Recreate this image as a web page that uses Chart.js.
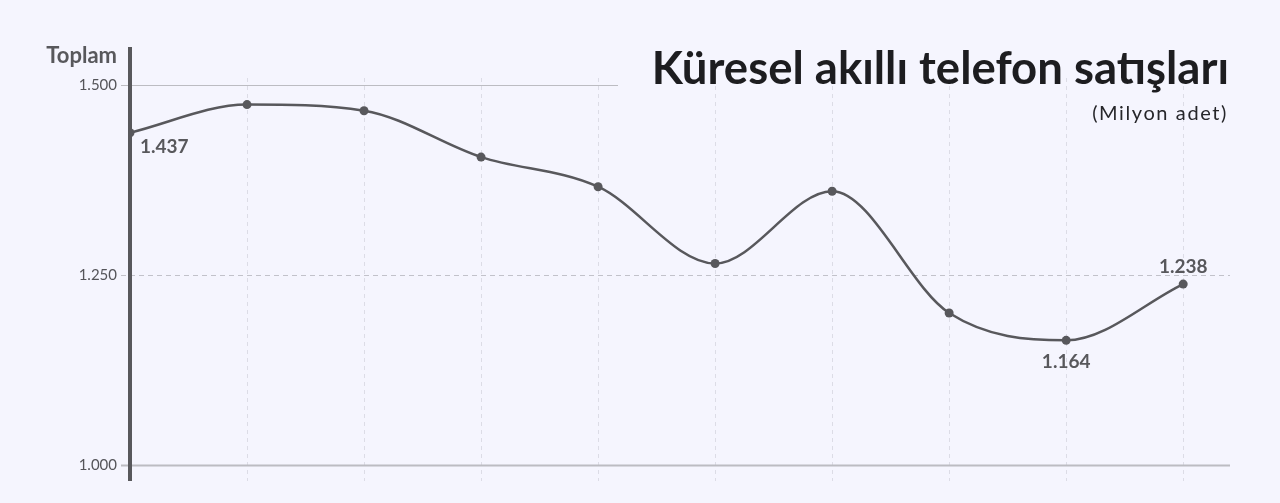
<!DOCTYPE html>
<html lang="tr">
<head>
<meta charset="utf-8">
<title>Küresel akıllı telefon satışları</title>
<script src="https://cdn.jsdelivr.net/npm/chart.js@4.4.1/dist/chart.umd.min.js"></script>
<style>
  html, body { margin: 0; padding: 0; background: #f5f5fe; }
  #kutu { position: relative; width: 1280px; height: 503px; }
  #grafik { position: absolute; left: 0; top: 0; }
  .yazi { position: absolute; white-space: nowrap; font-family: Lato, sans-serif; line-height: 1; }
  #baslik { right: 51px; top: 44px; font-size: 45.5px; font-weight: 700; color: #1d1d20; }
  #altbaslik { right: 52px; top: 102px; font-size: 20px; color: #26262a; letter-spacing: 1.6px; }
  #toplam { right: 1163px; top: 44px; font-size: 22px; font-weight: 700; color: #58585c; }
</style>
</head>
<body>
<div id="kutu">
  <canvas id="grafik" width="1280" height="503"></canvas>
  <div class="yazi" id="toplam">Toplam</div>
  <div class="yazi" id="baslik">Küresel akıllı telefon satışları</div>
  <div class="yazi" id="altbaslik">(Milyon adet)</div>
</div>
<script>
// yıllar (eksende yazılmıyor)
const yillar = ['2015', '2016', '2017', '2018', '2019', '2020', '2021', '2022', '2023', '2024'];
// satışlar, milyon adet
const satislar = [1437, 1474, 1466, 1405, 1366, 1265, 1360, 1200, 1164, 1238];
const yTikler = [1000, 1250, 1500];
// etiketi gösterilen noktalar
const etiketli = [0, 8, 9];

function sayiYaz(v) {
    return Math.round(v).toString().replace(/\B(?=(\d{3})+(?!\d))/g, '.');
}

const gri = '#58585c';

const cizimler = {
    id: 'cizimler',
    beforeDatasetsDraw(chart) {
        const ctx = chart.ctx;
        const a = chart.chartArea;
        const y = chart.scales.y;
        ctx.save();
        y.ticks.forEach(function (t) {
            const py = Math.round(y.getPixelForValue(t.value)) + 0.5;
            ctx.beginPath();
            ctx.lineWidth = t.value === 1000 ? 2 : 1.2;
            ctx.strokeStyle = t.value === 1250 ? '#c2c2ca' : '#bcbcc2';
            ctx.setLineDash(t.value === 1250 ? [5, 4] : []);
            ctx.moveTo(a.left - 9, py);
            ctx.lineTo(t.value === 1500 ? 618 : a.right, py);
            ctx.stroke();
        });
        // kalın y ekseni
        ctx.setLineDash([]);
        ctx.lineWidth = 4;
        ctx.strokeStyle = gri;
        ctx.beginPath();
        ctx.moveTo(a.left, a.top - 31);
        ctx.lineTo(a.left, a.bottom);
        ctx.stroke();
        ctx.restore();
    },
    afterDatasetsDraw(chart) {
        const ctx = chart.ctx;
        const pts = chart.getDatasetMeta(0).data;
        ctx.save();
        ctx.font = '700 19px Lato';
        ctx.fillStyle = gri;
        ctx.textBaseline = 'middle';
        etiketli.forEach(function (i) {
            const p = pts[i];
            const txt = sayiYaz(satislar[i]);
            if (i === 0) {
                ctx.textAlign = 'left';
                ctx.fillText(txt, p.x + 10, p.y + 14);
            } else if (i === satislar.length - 1) {
                ctx.textAlign = 'center';
                ctx.fillText(txt, p.x, p.y - 17);
            } else {
                ctx.textAlign = 'center';
                ctx.fillText(txt, p.x, p.y + 22);
            }
        });
        ctx.restore();
    }
};

new Chart(document.getElementById('grafik'), {
    type: 'line',
    data: {
        datasets: [{
            data: satislar.map(function (v, i) { return { x: i, y: v }; }),
            borderColor: gri,
            borderWidth: 2.5,
            cubicInterpolationMode: 'monotone',
            pointRadius: 4.5,
            pointBackgroundColor: gri,
            pointBorderWidth: 0,
            fill: false
        }]
    },
    options: {
        responsive: false,
        animation: false,
        layout: { padding: { top: 78, right: 50, bottom: 22, left: 0 } },
        plugins: { legend: { display: false }, tooltip: { enabled: false }, title: { display: false } },
        scales: {
            x: {
                type: 'linear',
                min: 0,
                max: 9.4,
                afterBuildTicks: function (s) {
                    s.ticks = yillar.map(function (_, i) { return { value: i }; });
                },
                afterFit: function (s) { s.height = 0; },
                ticks: { display: false },
                grid: { color: '#dcdce6', lineWidth: 1, drawTicks: false },
                border: { display: false, dash: [4, 4] }
            },
            y: {
                min: 979,
                max: 1509,
                afterBuildTicks: function (s) {
                    s.ticks = yTikler.map(function (v) { return { value: v }; });
                },
                afterFit: function (s) { s.width = 130; },
                ticks: {
                    padding: 5,
                    color: '#55555a',
                    font: { family: 'Lato', size: 15 },
                    callback: function (v) { return sayiYaz(v); }
                },
                grid: { display: false },
                border: { display: false }
            }
        }
    },
    plugins: [cizimler]
});
</script>
</body>
</html>
